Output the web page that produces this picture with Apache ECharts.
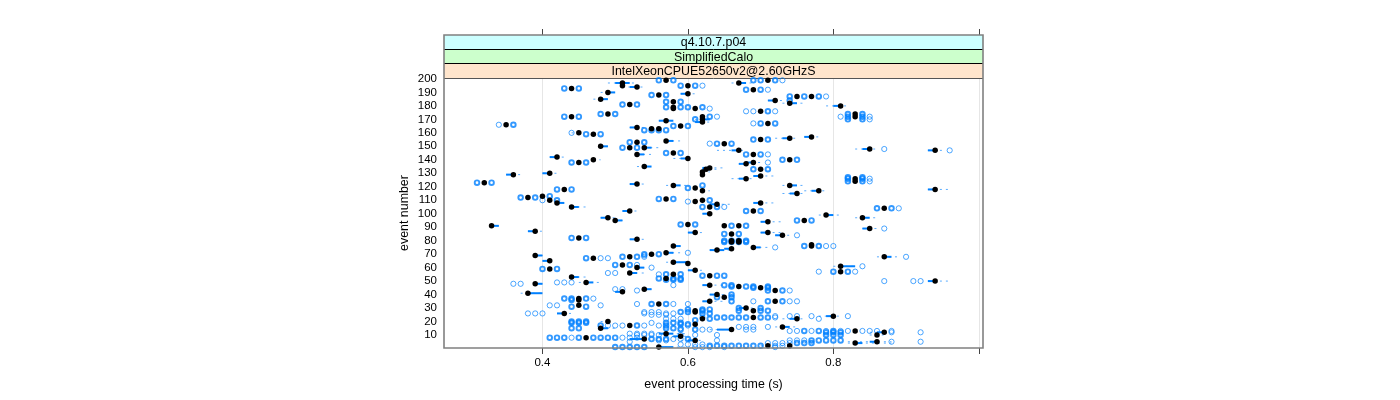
<!DOCTYPE html>
<html><head><meta charset="utf-8"><style>html,body{margin:0;background:#fff}#c{width:1400px;height:400px}</style>
<script src="https://cdn.jsdelivr.net/npm/echarts@6/dist/echarts.min.js"></script></head>
<body><div id="c"></div><script>
const xTicks=[0.4,0.6,0.8,1.0];
const xLabels=[0.4,0.6,0.8];
const yLabels=[10,20,30,40,50,60,70,80,90,100,110,120,130,140,150,160,170,180,190,200];
const stripTexts=["q4.10.7.p04","SimplifiedCalo","IntelXeonCPUE52650v2@2.60GHzS"];
// event, median, box low, box high, whisker low, whisker high
const boxRows=[
[199,.57,.57,.57,.57,.57],[199,.71,.71,.71,.71,.71],[197,.51,.50,.52,.49,.53],[197,.67,.67,.68,.66,.69],[195,.51,.51,.51,.51,.51],[195,.60,.60,.60,.60,.60],[194,.53,.52,.53,.51,.54],
[193,.44,.44,.44,.44,.44],[192,.69,.69,.69,.69,.69],[190,.49,.49,.50,.48,.50],[189,.60,.59,.60,.59,.61],[188,.56,.56,.56,.56,.56],[187,.75,.75,.75,.75,.75],[187,.77,.77,.77,.77,.77],
[185,.48,.48,.49,.47,.49],[184,.72,.71,.72,.71,.73],[183,.58,.58,.58,.58,.58],[182,.74,.74,.75,.73,.76],[181,.52,.52,.52,.52,.52],[180,.81,.80,.81,.79,.82],[179,.58,.58,.58,.58,.58],[178,.58,.58,.58,.58,.58],[178,.61,.61,.61,.61,.61],
[176,.70,.70,.70,.70,.70],[174,.49,.49,.49,.49,.49],[172,.44,.44,.44,.44,.44],[172,.83,.83,.83,.83,.83],[174,.83,.83,.83,.83,.83],[172,.62,.62,.62,.62,.62],[170,.62,.62,.63,.61,.63],[169,.57,.56,.58,.56,.58],[168,.62,.61,.62,.61,.63],[167,.71,.71,.71,.71,.71],
[166,.35,.35,.35,.35,.35],[165,.59,.59,.59,.59,.59],[164,.53,.52,.53,.52,.54],[163,.55,.55,.55,.55,.55],[163,.56,.56,.56,.56,.56],[160,.45,.45,.45,.44,.45],[159,.47,.47,.47,.47,.47],[157,.77,.76,.77,.76,.78],[156,.74,.73,.74,.72,.75],[155,.70,.70,.70,.70,.70],
[154,.57,.57,.58,.57,.59],[153,.53,.53,.53,.53,.53],[152,.65,.65,.65,.65,.65],[150,.48,.48,.49,.48,.49],[149,.54,.54,.55,.54,.56],[149,.52,.52,.52,.52,.52],[148,.85,.84,.85,.83,.86],[147,.67,.66,.67,.64,.68],[147,.94,.93,.94,.93,.95],[145,.58,.58,.58,.58,.58],
[144,.53,.53,.54,.53,.55],[144,.69,.69,.69,.69,.69],[142,.42,.41,.42,.41,.43],[141,.60,.59,.60,.58,.60],[140,.47,.47,.47,.47,.48],[140,.74,.74,.74,.74,.74],[138,.45,.45,.45,.45,.45],[138,.69,.68,.69,.68,.70],[137,.68,.67,.68,.67,.69],[135,.54,.54,.55,.53,.55],[134,.63,.62,.63,.62,.65],[133,.70,.70,.70,.70,.70],
[133,.625,.62,.63,.62,.64],[131,.62,.62,.62,.62,.63],[130,.41,.40,.41,.40,.42],[129,.36,.35,.36,.35,.37],[129,.62,.62,.62,.62,.62],[128,.70,.69,.70,.69,.72],[126,.68,.67,.68,.66,.69],[126,.83,.83,.83,.83,.83],[124,.83,.83,.83,.83,.83],[123,.32,.32,.32,.32,.32],
[122,.53,.52,.53,.52,.54],[121,.58,.58,.59,.57,.60],[121,.74,.74,.75,.73,.76],[119,.61,.61,.61,.61,.61],[118,.43,.43,.43,.43,.43],[118,.94,.93,.94,.93,.96],[117,.78,.77,.78,.76,.79],[117,.62,.62,.62,.62,.63],[115,.75,.74,.75,.73,.76],[113,.40,.40,.40,.40,.40],[112,.38,.38,.38,.38,.38],
[111,.57,.57,.57,.57,.57],[110,.41,.41,.41,.41,.41],[110,.62,.62,.62,.62,.62],[109,.61,.61,.61,.61,.61],[108,.42,.42,.43,.42,.43],[108,.70,.69,.70,.69,.72],[107,.64,.63,.64,.63,.66],[105,.44,.44,.45,.44,.46],[105,.63,.63,.63,.63,.63],[104,.87,.87,.87,.87,.87],[102,.52,.51,.52,.51,.53],[102,.69,.69,.69,.69,.69],[100,.63,.62,.63,.62,.63],
[99,.79,.79,.80,.78,.81],[97,.49,.48,.49,.48,.50],[97,.84,.84,.85,.83,.86],[95,.50,.50,.51,.50,.51],[95,.76,.76,.76,.76,.76],[94,.71,.70,.71,.70,.73],[92,.60,.60,.60,.60,.60],[91,.33,.33,.34,.33,.34],[91,.65,.65,.65,.65,.65],[91,.67,.67,.67,.67,.67],[89,.85,.84,.85,.84,.86],
[87,.39,.38,.39,.38,.40],[86,.61,.60,.61,.60,.62],[86,.71,.70,.71,.70,.73],[85,.66,.66,.66,.66,.66],[84,.73,.72,.73,.72,.74],[82,.45,.45,.45,.45,.45],[81,.53,.52,.53,.52,.54],[80,.66,.66,.66,.66,.66],[80,.67,.67,.67,.67,.67],[79,.66,.66,.66,.66,.66],[79,.67,.67,.67,.67,.67],
[77,.77,.77,.77,.77,.77],[76,.58,.58,.59,.58,.59],[76,.77,.77,.77,.77,.77],[75,.69,.69,.70,.69,.71],[74,.66,.65,.66,.65,.66],[73,.64,.63,.65,.63,.66],[71,.57,.57,.58,.57,.59],[70,.55,.55,.55,.55,.55],[69,.39,.39,.40,.39,.40],[68,.52,.52,.52,.52,.52],[68,.87,.87,.88,.86,.89],[67,.47,.47,.47,.47,.47],
[65,.41,.40,.41,.40,.41],[64,.58,.58,.60,.57,.60],[63,.60,.60,.60,.60,.60],[62,.51,.51,.51,.51,.51],[61,.81,.81,.83,.80,.83],[60,.53,.53,.54,.53,.54],[59,.41,.41,.41,.41,.41],[58,.61,.60,.61,.60,.62],[57,.81,.81,.81,.81,.81],[56,.52,.52,.53,.52,.54],[55,.58,.58,.58,.58,.58],
[54,.63,.63,.63,.63,.63],[53,.44,.44,.45,.44,.46],[52,.57,.57,.57,.57,.57],[50,.94,.93,.94,.93,.96],[49,.46,.46,.47,.45,.48],[48,.39,.39,.40,.39,.40],
[47,.63,.62,.63,.62,.65],[46,.67,.67,.67,.67,.67],[45,.70,.70,.70,.70,.70],[44,.54,.54,.55,.54,.55],[43,.72,.72,.72,.72,.72],[42,.51,.50,.51,.50,.51],[41,.38,.38,.40,.37,.40],[40,.64,.63,.64,.63,.65],[38,.65,.65,.65,.65,.65],[37,.45,.45,.45,.45,.45],[36,.45,.45,.45,.45,.45],[35,.63,.62,.63,.62,.65],[35,.72,.72,.72,.72,.72],[33,.56,.56,.56,.56,.56],[32,.45,.45,.45,.45,.45],[30,.68,.67,.68,.67,.69],[28,.69,.69,.69,.69,.69],[28,.61,.61,.61,.61,.61],[27,.61,.61,.61,.61,.61],[26,.43,.42,.43,.42,.44],[24,.80,.79,.80,.78,.81],[23,.69,.69,.69,.69,.69],[22,.75,.74,.75,.73,.76],[22,.62,.62,.62,.62,.62],[20,.49,.49,.49,.48,.49],[18,.61,.61,.61,.61,.61],[17,.52,.52,.52,.52,.52],[16,.73,.73,.74,.72,.75],[15,.48,.48,.49,.48,.50],[14,.66,.64,.66,.63,.66],[13,.83,.83,.83,.83,.83],[12,.87,.86,.87,.85,.87],[11,.57,.56,.58,.56,.60],[10,.86,.86,.86,.85,.87],[9,.59,.58,.59,.57,.60],[8,.46,.46,.46,.46,.46],[7,.54,.52,.54,.52,.55],[6,.61,.60,.61,.59,.62],[5,.86,.85,.86,.82,.88],[4,.83,.83,.84,.82,.88],[2,.71,.71,.71,.70,.72],[2,.74,.74,.74,.72,.74],[1,.56,.56,.58,.56,.60]];
// event, times of outlier rings that read as heavy (overprinted)
const heavyOutliers=[
[199,[.56,.58,.70,.72,.69]],[195,[.59,.61]],[193,[.43,.45]],[192,[.68,.70]],[188,[.55,.57]],[187,[.74,.76,.78]],[184,[.74]],[183,[.57,.59]],[181,[.51,.53]],[179,[.57,.59,.60,.62]],[176,[.71]],[174,[.48,.50,.82,.84]],[172,[.43,.45,.82,.84,.63]],[170,[.61,.82,.84]],
[167,[.70,.72]],[166,[.36]],[165,[.58,.60]],[162,[.54,.55,.56,.57]],[159,[.46,.48]],[155,[.69,.71]],[153,[.52,.54]],[152,[.64,.66]],[149,[.51,.53]],[145,[.57,.59]],[144,[.68,.70]],[140,[.73,.75]],[138,[.44,.46]],
[133,[.69,.71]],[127,[.82,.84]],[126,[.82,.84]],[124,[.82,.84]],[123,[.31,.33]],[121,[.62]],[119,[.60]],[118,[.42,.44]],[113,[.41]],[112,[.39,.37]],[111,[.56,.58]],[110,[.42,.63]],[105,[.62,.64]],[104,[.86,.88]],[102,[.68,.70]],
[95,[.75,.77]],[92,[.59,.61]],[91,[.66,.68]],[85,[.65,.67]],[82,[.44,.46]],[80,[.65,.66,.67,.68]],[79,[.65,.66,.67,.68]],[76,[.76,.78]],[70,[.54,.56]],[68,[.51,.53]],[67,[.46]],[62,[.50,.52]],[59,[.40,.42]],[57,[.80,.82]],
[55,[.57,.59]],[54,[.62,.64,.65]],[52,[.56,.58,.59]],[51,[.57,.58,.59]],
[47,[.65,.66]],[46,[.66,.68,.69,.71]],[45,[.69,.71]],[43,[.71,.73]],[40,[.66]],[38,[.66,.64]],[37,[.44,.46,.43]],[36,[.44]],[35,[.71,.73,.66]],[33,[.55,.57]],[31,[.44,.46]],[30,[.67,.70]],[28,[.62,.67,.70,.71]],[29,[.62,.63,.60]],[27,[.59,.60]],[26,[.62,.63]],[23,[.64,.65,.66,.67,.68,.70,.71]],[22,[.63]],[21,[.61]],[20,[.44,.45,.46]],[19,[.44,.45,.46,.57,.58,.59]],[18,[.59,.60]],[17,[.48,.53,.57]],[15,[.44,.45,.57,.58]],[14,[.59,.61]],[13,[.76,.78,.80]],[12,[.79,.80,.81]],[10,[.79,.80,.81]],[8,[.41,.42,.43,.45,.47,.48,.49,.50]],[7,[.55,.56,.57,.60]],[6,[.77,.78,.79,.80,.81]],[4,[.75,.76,.77]],[2,[.63,.64,.65,.66,.67,.68,.69,.70]],[1,[.50,.51,.52,.53,.54]]];
// event, times of outlier rings that read as thin
const lightOutliers=[
[199,[.73]],[195,[.62]],[192,[.71]],[187,[.79]],[178,[.63]],[176,[.68,.69,.72]],[172,[.64,.81,.85]],[170,[.85]],[167,[.69]],[166,[.34]],[160,[.44]],[152,[.63]],[148,[.87]],[147,[.96]],[144,[.71]],[138,[.71]],[126,[.85]],[124,[.85]],
[110,[.40]],[109,[.60]],[105,[.65]],[104,[.89]],[89,[.87]],[84,[.75]],[76,[.79,.80]],[75,[.72]],[71,[.60]],[69,[.54]],[68,[.54,.90]],[67,[.48,.49]],[62,[.53]],[61,[.84]],[60,[.55]],[57,[.78,.83]],[56,[.49,.50]],[55,[.56]],[50,[.87,.91,.92]],
[49,[.42,.43,.44]],[48,[.36,.37]],[47,[.58]],[44,[.50,.51]],[43,[.53,.74]],[37,[.47]],[35,[.69,.74,.75]],[33,[.53,.58,.60]],[32,[.41,.42,.48]],[27,[.54,.55,.56]],[26,[.38,.39,.40,.54,.57,.58]],[25,[.55,.56,.57]],[24,[.72,.74,.75,.77,.82]],[23,[.62,.72]],[22,[.78,.57,.58,.59]],[19,[.55]],[17,[.49,.50,.51,.54,.56,.60]],[16,[.71,.69,.68,.67]],[15,[.59]],[14,[.62,.63,.68,.69]],[13,[.74,.75,.77,.79,.81,.82,.84,.85,.86,.88]],[12,[.92,.88]],[11,[.52,.53,.54,.55]],[10,[.53,.54,.55,.56,.59,.61,.64]],[8,[.44,.51,.52,.53]],[7,[.58,.59]],[6,[.64,.74,.75,.76,.56,.57]],[5,[.88,.92,.52]],[4,[.74,.73,.71,.72]],[3,[.59,.60,.61,.62]],[2,[.72,.73]],[1,[.61,.62,.63,.65,.72]]];

const BLUE='#0080ff';
const pts=rows=>rows.flatMap(([e,ts])=>ts.map(t=>[t,e]));
const panel={l:444,r:983,t:78,b:348};
const strips=[[35,49.5,'#CCFFFF'],[49.5,64,'#CCFFCC'],[64,78,'#FFE5CC']];
const chart=echarts.init(document.getElementById('c'),null,{renderer:'canvas'});
const font='"Liberation Sans",Arial,sans-serif';
chart.setOption({
 animation:false,backgroundColor:'#fff',
 grid:{left:panel.l,top:panel.t,width:panel.r-panel.l,height:panel.b-panel.t,show:false},
 xAxis:[{type:'value',min:0.2646,max:1.0058,position:'bottom',
   axisLine:{show:false},
   axisTick:{show:true,length:6,customValues:xTicks,lineStyle:{color:'#444',width:1}},
   axisLabel:{customValues:xLabels,margin:9,fontSize:11.5,color:'#000',fontFamily:font,formatter:v=>v.toFixed(1)},
   splitLine:{show:true,lineStyle:{color:'#e6e6e6',width:1}},
   name:'event processing time (s)',nameLocation:'middle',nameGap:31,nameTextStyle:{fontSize:12.4,color:'#000',fontFamily:font}},
  {type:'value',min:0.2646,max:1.0058,position:'top',offset:43,
   axisLine:{show:false},axisTick:{show:true,length:6,customValues:xTicks,lineStyle:{color:'#444',width:1}},
   axisLabel:{show:false,customValues:xLabels},splitLine:{show:false}}],
 yAxis:{type:'value',min:0.35,max:200.7,
   axisLine:{show:false},axisTick:{show:false},splitLine:{show:false},
   axisLabel:{customValues:yLabels,margin:7,fontSize:11.5,color:'#000',fontFamily:font},
   name:'event number',nameLocation:'middle',nameGap:33,nameRotate:90,nameTextStyle:{fontSize:12.4,color:'#000',fontFamily:font}},
 series:[
  {type:'custom',clip:true,silent:true,z:2,data:boxRows,encode:{x:[1,2,3,4,5],y:0},
   renderItem:(p,api)=>{
    const e=api.value(0),a=api.coord([api.value(4),e]),b=api.coord([api.value(5),e]),
          c=api.coord([api.value(2),e]),d=api.coord([api.value(3),e]);
    return {type:'group',children:[
     {type:'line',shape:{x1:a[0],y1:a[1],x2:b[0],y2:b[1]},style:{stroke:BLUE,lineWidth:1,lineDash:[2,4],opacity:.65}},
     {type:'line',shape:{x1:c[0],y1:c[1],x2:d[0],y2:d[1]},style:{stroke:BLUE,lineWidth:2}}
    ]};
   }},
  {type:'scatter',z:3,data:pts(lightOutliers),symbol:'circle',symbolSize:5.2,itemStyle:{color:'rgba(0,0,0,0)',borderColor:BLUE,borderWidth:1,opacity:.7}},
  {type:'scatter',z:4,data:pts(heavyOutliers),symbol:'circle',symbolSize:4.6,itemStyle:{color:'rgba(0,0,0,0)',borderColor:BLUE,borderWidth:1.9}},
  {type:'scatter',z:5,data:boxRows.map(r=>[r[1],r[0]]),symbol:'circle',symbolSize:5.5,itemStyle:{color:'#000',opacity:1}}
 ],
 graphic:[
  ...strips.map(([a,b,col])=>({type:'rect',z:1,shape:{x:panel.l,y:a,width:panel.r-panel.l,height:b-a},style:{fill:col}})),
  ...stripTexts.map((t,i)=>({type:'text',z:2,x:(panel.l+panel.r)/2,y:(strips[i][0]+strips[i][1])/2+.5,
     style:{text:t,fill:'#000',font:'12.4px '+font,textAlign:'center',textVerticalAlign:'middle'}})),
  ...[49.5,63.5].map(y=>({type:'line',z:3,shape:{x1:panel.l,y1:y,x2:panel.r,y2:y},style:{stroke:'#000',lineWidth:1}})),
  {type:'line',z:3,shape:{x1:panel.l,y1:78.5,x2:panel.r,y2:78.5},style:{stroke:'#555',lineWidth:1}},
  {type:'rect',z:20,shape:{x:panel.l,y:35,width:panel.r-panel.l,height:panel.b-35},style:{fill:'none',stroke:'#808080',lineWidth:1.6}}
 ]
});
</script></body></html>
